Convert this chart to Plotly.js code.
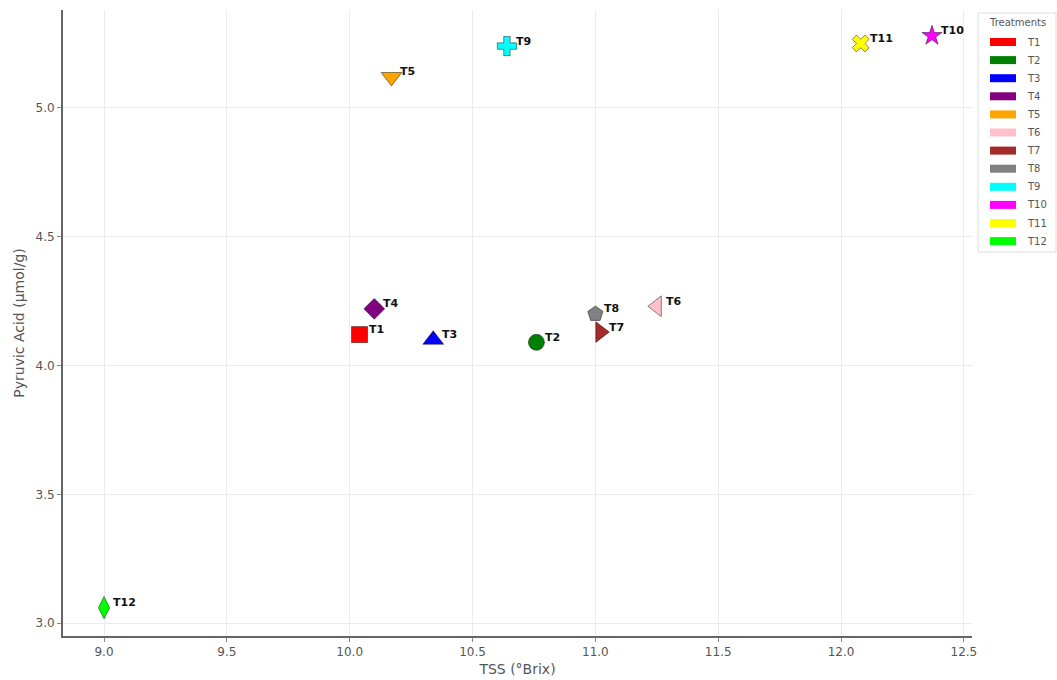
<!DOCTYPE html>
<html>
<head>
<meta charset="utf-8">
<script src="https://cdn.plot.ly/plotly-3.0.1.min.js"></script>
<style>html,body{margin:0;padding:0;background:#fff;}#chart{width:1057px;height:680px;}</style>
</head>
<body>
<div id="chart"></div>
<script>
const treatments = ['T1','T2','T3','T4','T5','T6','T7','T8','T9','T10','T11','T12'];
const tss = [10.04, 10.76, 10.34, 10.10, 10.17, 11.25, 11.02, 11.00, 10.64, 12.37, 12.08, 9.00];
const pyruvic = [4.12, 4.09, 4.10, 4.22, 5.12, 4.23, 4.13, 4.20, 5.24, 5.28, 5.25, 3.06];
const colors = ['#ff0000','#008000','#0000ff','#800080','#ffa500','#ffc0cb','#a52a2a','#808080','#00ffff','#ff00ff','#ffff00','#00ff00'];
const symbols = ['square','circle','triangle-up','diamond','triangle-down','triangle-left','triangle-right','pentagon','cross','star','x','diamond-tall'];
const xTicks = [9.0, 9.5, 10.0, 10.5, 11.0, 11.5, 12.0, 12.5];
const yTicks = [3.0, 3.5, 4.0, 4.5, 5.0];

const M = {l:63, r:85, t:10, b:44};
const W = 1057, H = 680;
const pw = W - M.l - M.r, ph = H - M.t - M.b;
const px = x => (x - M.l) / pw;
const py = y => (H - M.b - y) / ph;

const sizeFor = s => s === 'star' ? 15 : (s.indexOf('triangle') === 0 ? 18 : (s === 'x' ? 15 : 16));

const traces = treatments.map((t, i) => ({
  type: 'scatter', mode: 'markers',
  x: [tss[i]], y: [pyruvic[i]],
  name: t, showlegend: false,
  marker: {symbol: symbols[i], size: sizeFor(symbols[i]), color: colors[i],
           line: {color: 'rgba(0,0,0,0.45)', width: 1}},
  cliponaxis: false,
  hoverinfo: 'x+y+name'
}));

const shapes = [];
const annotations = treatments.map((t, i) => ({
  x: tss[i], y: pyruvic[i], xref: 'x', yref: 'y', text: t, showarrow: false,
  xanchor: 'left', yanchor: 'middle', xshift: 7, yshift: 5,
  font: {family: 'DejaVu Sans', size: 11, color: '#111', weight: 'bold'}
}));
// legend box
shapes.push({type:'rect', xref:'paper', yref:'paper', x0:px(978), x1:px(1056), y0:py(252), y1:py(13),
  line:{color:'#dddddd', width:1}, fillcolor:'rgba(255,255,255,0.9)', layer:'above'});
annotations.push({xref:'paper', yref:'paper', x:px(1017), y:py(22), text:'Treatments', showarrow:false,
  xanchor:'center', yanchor:'middle', font:{family:'DejaVu Sans', size:10, color:'#555'}});
treatments.forEach((t, i) => {
  const yc = 42 + i * 18.1;
  shapes.push({type:'rect', xref:'paper', yref:'paper', x0:px(990), x1:px(1016), y0:py(yc+4), y1:py(yc-4),
    fillcolor: colors[i], line:{width:0}, layer:'above'});
  annotations.push({xref:'paper', yref:'paper', x:px(1025), y:py(yc), text:t, showarrow:false,
    xanchor:'left', yanchor:'middle', font:{family:'DejaVu Sans', size:10, color:'#555'}});
});

const layout = {
  width: W, height: H,
  margin: M,
  paper_bgcolor: '#fff', plot_bgcolor: '#fff',
  font: {family: 'DejaVu Sans', color: '#555'},
  xaxis: {
    range: [8.833, 12.533], tickvals: xTicks, ticktext: xTicks.map(v => v.toFixed(1)),
    showgrid: true, gridcolor: '#ebebeb', gridwidth: 1, zeroline: false,
    showline: true, linecolor: '#666', linewidth: 2, ticks: 'outside', ticklen: 4, tickcolor: '#888',
    tickfont: {size: 12, color: '#555'},
    title: {text: 'TSS (°Brix)', font: {size: 14, color: '#555'}, standoff: 6}
  },
  yaxis: {
    range: [2.95, 5.38], tickvals: yTicks, ticktext: yTicks.map(v => v.toFixed(1)),
    showgrid: true, gridcolor: '#ebebeb', gridwidth: 1, zeroline: false,
    showline: true, linecolor: '#666', linewidth: 2, ticks: 'outside', ticklen: 4, tickcolor: '#888',
    tickfont: {size: 12, color: '#555'},
    title: {text: 'Pyruvic Acid (µmol/g)', font: {size: 14, color: '#555'}, standoff: 8}
  },
  shapes: shapes,
  annotations: annotations,
  showlegend: false
};

Plotly.newPlot('chart', traces, layout, {displayModeBar: false});
</script>
</body>
</html>
